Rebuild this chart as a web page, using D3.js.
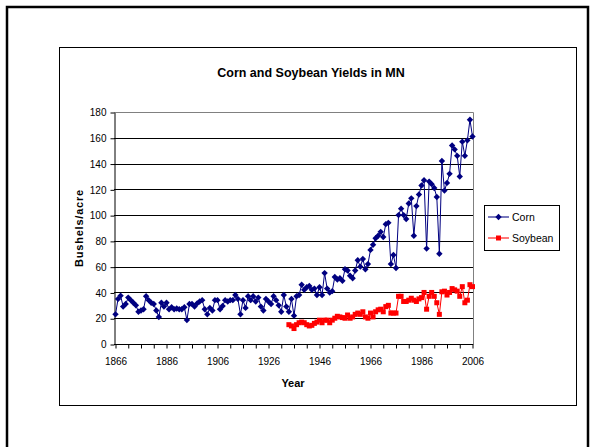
<!DOCTYPE html>
<html>
<head>
<meta charset="utf-8">
<script src="https://cdn.jsdelivr.net/npm/d3@7"></script>
<style>
  body { margin: 0; background: #fff; }
  svg { display: block; }
  text { font-family: "Liberation Sans", Arial, sans-serif; fill: #000; }
</style>
</head>
<body>
<svg id="chart" width="596" height="447"></svg>
<script>
// yields in bushels/acre, one value per year
var cornFirstYear = 1866;
var cornYields = [
  23, 35, 37.5, 29, 31, 36, 34, 32, 30, 25,
  26, 27, 37, 34, 32, 31, 26, 21, 32, 29,
  32, 27, 28.5, 27, 27.5, 27, 27, 28.5, 18.6, 31,
  31, 29, 31.5, 33, 34, 27, 23, 28, 26, 34,
  34, 27, 29.5, 34, 33, 34, 34, 38, 35, 23,
  34, 28, 37,
  34, 37, 33, 36, 29, 26, 35, 33, 31, 37,
  34, 30, 25, 38, 29, 25, 35, 22, 37, 38,
  46, 42, 44, 45, 42, 43, 38, 44, 38, 55,
  43, 40, 41, 52,
  50, 51, 49, 58, 57, 53, 51, 57, 65, 60,
  66, 58, 62, 73, 77, 82, 84, 87, 83, 93,
  94, 62, 69, 59, 100, 105, 100, 97, 109, 113,
  84, 107, 116, 123, 127, 74, 126, 124, 121, 114,
  70, 142, 119, 125, 132, 154, 151, 146, 130, 157,
  146, 158, 174, 161
];
var soyFirstYear = 1934;
var soyYields = [
  15, 14, 12, 15, 16.5, 17, 16.5, 15, 14, 14.5,
  16, 17, 18.5, 16.5, 18.5, 18.5, 16.5, 18.5, 20, 21.5,
  21, 20.5, 20, 22.5, 20, 21, 23, 24, 23, 25,
  21, 20, 24, 21, 25, 26.5, 27, 25, 29, 30,
  24, 24, 24, 37, 37, 33, 33, 34, 35.5, 34,
  33, 35, 36, 40, 27, 37, 40, 37, 32, 23,
  40.5, 41, 38, 40, 43, 42, 41, 37, 44.5, 32,
  34, 46, 44.5
];
var yTickValues = [0, 20, 40, 60, 80, 100, 120, 140, 160, 180];
var xLabelYears = [1866, 1886, 1906, 1926, 1946, 1966, 1986, 2006];
var seriesNames = ["Corn", "Soybean"];

var corn = cornYields.map(function(v, i) { return { year: cornFirstYear + i, value: v }; });
var soy = soyYields.map(function(v, i) { return { year: soyFirstYear + i, value: v }; });

var svg = d3.select("#chart");

// slide frame
svg.append("path")
  .attr("d", "M7,447 L7,7 L588,7 L588,447")
  .attr("fill", "none")
  .attr("stroke", "#000")
  .attr("stroke-width", 2.5);

// chart box
svg.append("rect")
  .attr("x", 59.5).attr("y", 47.5)
  .attr("width", 517).attr("height", 358)
  .attr("fill", "#fff")
  .attr("stroke", "#000")
  .attr("stroke-width", 1);

var plot = { left: 114, right: 473, top: 112, bottom: 344 };

var x = d3.scaleLinear().domain([1866, 2006]).range([115.5, 472.5]),
  y = d3.scaleLinear().domain([0, 180]).range([plot.bottom, plot.top]);

// plot area border (gray top/right)
svg.append("path")
  .attr("d", "M" + plot.left + "," + (y(180) + 0.5) + " L" + (plot.right + 0.5) + "," + (y(180) + 0.5) + " L" + (plot.right + 0.5) + "," + plot.bottom)
  .attr("fill", "none")
  .attr("stroke", "#808080")
  .attr("stroke-width", 1);

// gridlines
svg.append("g")
  .selectAll("line")
  .data(yTickValues.filter(function(d) { return d > 0 && d < 180; }))
  .enter()
  .append("line")
  .attr("x1", plot.left).attr("x2", plot.right)
  .attr("y1", function(d) { return Math.round(y(d)) + 0.5; })
  .attr("y2", function(d) { return Math.round(y(d)) + 0.5; })
  .attr("stroke", "#000")
  .attr("stroke-width", 1);

// y axis
var yAxis = d3.axisLeft(y).tickValues(yTickValues).tickSize(4).tickSizeOuter(0).tickPadding(4);
var gy = svg.append("g")
  .attr("transform", "translate(" + (plot.left + 0.5) + ",0.5)")
  .call(yAxis);
gy.selectAll("text").attr("font-size", 10).style("font-family", "Liberation Sans, Arial, sans-serif");

// x axis
var xAxis = d3.axisBottom(x)
  .tickValues(d3.range(1866, 2007, 5))
  .tickSize(4)
  .tickSizeOuter(0)
  .tickPadding(9)
  .tickFormat(function(d) { return xLabelYears.indexOf(d) >= 0 ? d : ""; });
var gx = svg.append("g")
  .attr("transform", "translate(0," + (plot.bottom + 0.5) + ")")
  .call(xAxis);
gx.select(".domain").attr("d", "M" + plot.left + ",0H" + (plot.right + 0.5));
gx.selectAll("text").attr("font-size", 10).style("font-family", "Liberation Sans, Arial, sans-serif");

// title and axis titles
svg.append("text")
  .attr("x", 311).attr("y", 77)
  .attr("text-anchor", "middle")
  .attr("font-size", 12.5).attr("font-weight", "bold")
  .text("Corn and Soybean Yields in MN");

svg.append("text")
  .attr("x", 293).attr("y", 387)
  .attr("text-anchor", "middle")
  .attr("font-size", 11).attr("font-weight", "bold")
  .text("Year");

svg.append("text")
  .attr("transform", "translate(83,228) rotate(-90)")
  .attr("text-anchor", "middle")
  .attr("font-size", 11).attr("font-weight", "bold")
  .attr("letter-spacing", 0.8)
  .text("Bushels/acre");

// lines
var line = d3.line()
  .x(function(d) { return x(d.year); })
  .y(function(d) { return y(d.value); });

svg.append("path")
  .datum(soy)
  .attr("fill", "none")
  .attr("stroke", "#ff0000")
  .attr("stroke-width", 1)
  .attr("d", line);

svg.append("g")
  .selectAll("rect")
  .data(soy)
  .enter()
  .append("rect")
  .attr("x", function(d) { return x(d.year) - 2.5; })
  .attr("y", function(d) { return y(d.value) - 2.5; })
  .attr("width", 5).attr("height", 5)
  .attr("fill", "#ff0000");

svg.append("path")
  .datum(corn)
  .attr("fill", "none")
  .attr("stroke", "#000080")
  .attr("stroke-width", 1)
  .attr("d", line);

var diamond = d3.symbol().type(d3.symbolDiamond2).size(26);
svg.append("g")
  .selectAll("path")
  .data(corn)
  .enter()
  .append("path")
  .attr("transform", function(d) { return "translate(" + x(d.year) + "," + y(d.value) + ")"; })
  .attr("d", diamond)
  .attr("fill", "#000080");

// legend
var legend = svg.append("g").attr("transform", "translate(484,205)");
legend.append("rect")
  .attr("x", 0.5).attr("y", 0.5)
  .attr("width", 75).attr("height", 45)
  .attr("fill", "#fff")
  .attr("stroke", "#000");

var legendColors = ["#000080", "#ff0000"];
seriesNames.forEach(function(name, i) {
  var ly = 12 + i * 21;
  legend.append("line")
    .attr("x1", 4).attr("x2", 25)
    .attr("y1", ly).attr("y2", ly)
    .attr("stroke", legendColors[i])
    .attr("stroke-opacity", 0.7)
    .attr("stroke-width", 1.5);
  if (i === 0) {
    legend.append("path")
      .attr("transform", "translate(14.5," + ly + ")")
      .attr("d", diamond)
      .attr("fill", legendColors[i]);
  } else {
    legend.append("rect")
      .attr("x", 12).attr("y", ly - 2.5)
      .attr("width", 5).attr("height", 5)
      .attr("fill", legendColors[i]);
  }
  legend.append("text")
    .attr("x", 28).attr("y", ly + 4)
    .attr("font-size", 10.5)
    .text(name);
});
</script>
</body>
</html>
